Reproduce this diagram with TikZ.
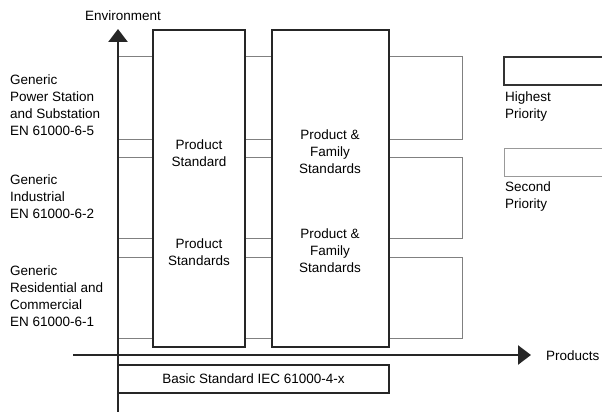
\documentclass[tikz,border=0pt]{standalone}
\usepackage{fontspec}
\setmainfont{Liberation Sans}
\usetikzlibrary{arrows.meta}

\tikzset{
  band/.style={draw=black!50, line width=1pt},
  colbox/.style={draw=black!85, line width=1.4pt, fill=white},
  axis/.style={draw=black!85, line width=2.6pt, -{Triangle[length=13pt,width=19pt]}},
  lbl/.style={align=left, anchor=west, inner sep=0pt},
  ctr/.style={align=center, inner sep=0pt},
}

\begin{document}
\begin{tikzpicture}[x=1pt, y=-1pt, font=\fontsize{13.5}{17}\selectfont]
        \useasboundingbox (0,0) rectangle (602,412);
        \coordinate (Ytop) at (118,29);
        \coordinate (Ybot) at (118,412);
        \coordinate (Xleft) at (73,355);
        \coordinate (Xright) at (531,355);
        \foreach \t/\b in {57/139, 157/238, 257/338}
            \draw[band] (118,\t) rectangle (462,\b);
        \draw[colbox] (153,30) rectangle (245,347);
        \draw[colbox] (272,30) rectangle (389,347);
        \draw[colbox] (118,365) rectangle (389,393);
        \draw[draw=black!80, line width=1.6pt] (504,57) rectangle (615,85);
        \draw[draw=black!40, line width=1pt] (504,148) rectangle (615,176);
        \draw[axis] (Ybot) -- (Ytop);
        \draw[axis] (Xleft) -- (Xright);
        \node[ctr] (env) at (123,16) {Environment};
        \node[lbl] (prod) at (546,356) {Products};
        \node[lbl] (gen5) at (10,105.5) {Generic\\Power Station\\and Substation\\EN 61000-6-5};
        \node[lbl] (gen2) at (10,197) {Generic\\Industrial\\EN 61000-6-2};
        \node[lbl] (gen1) at (10,296.5) {Generic\\Residential and\\Commercial\\EN 61000-6-1};
        \node[ctr] (ps1) at (199,153.5) {Product\\Standard};
        \node[ctr] (ps2) at (199,252) {Product\\Standards};
        \node[ctr] (pf1) at (330,152) {Product \&\\Family\\Standards};
        \node[ctr] (pf2) at (330,251) {Product \&\\Family\\Standards};
        \node[lbl] (high) at (505,106.5) {Highest\\Priority};
        \node[lbl] (second) at (505,196.5) {Second\\Priority};
        \node[ctr] (basic) at (253.5,379) {Basic Standard IEC 61000-4-x};
    \end{tikzpicture}
\end{document}
